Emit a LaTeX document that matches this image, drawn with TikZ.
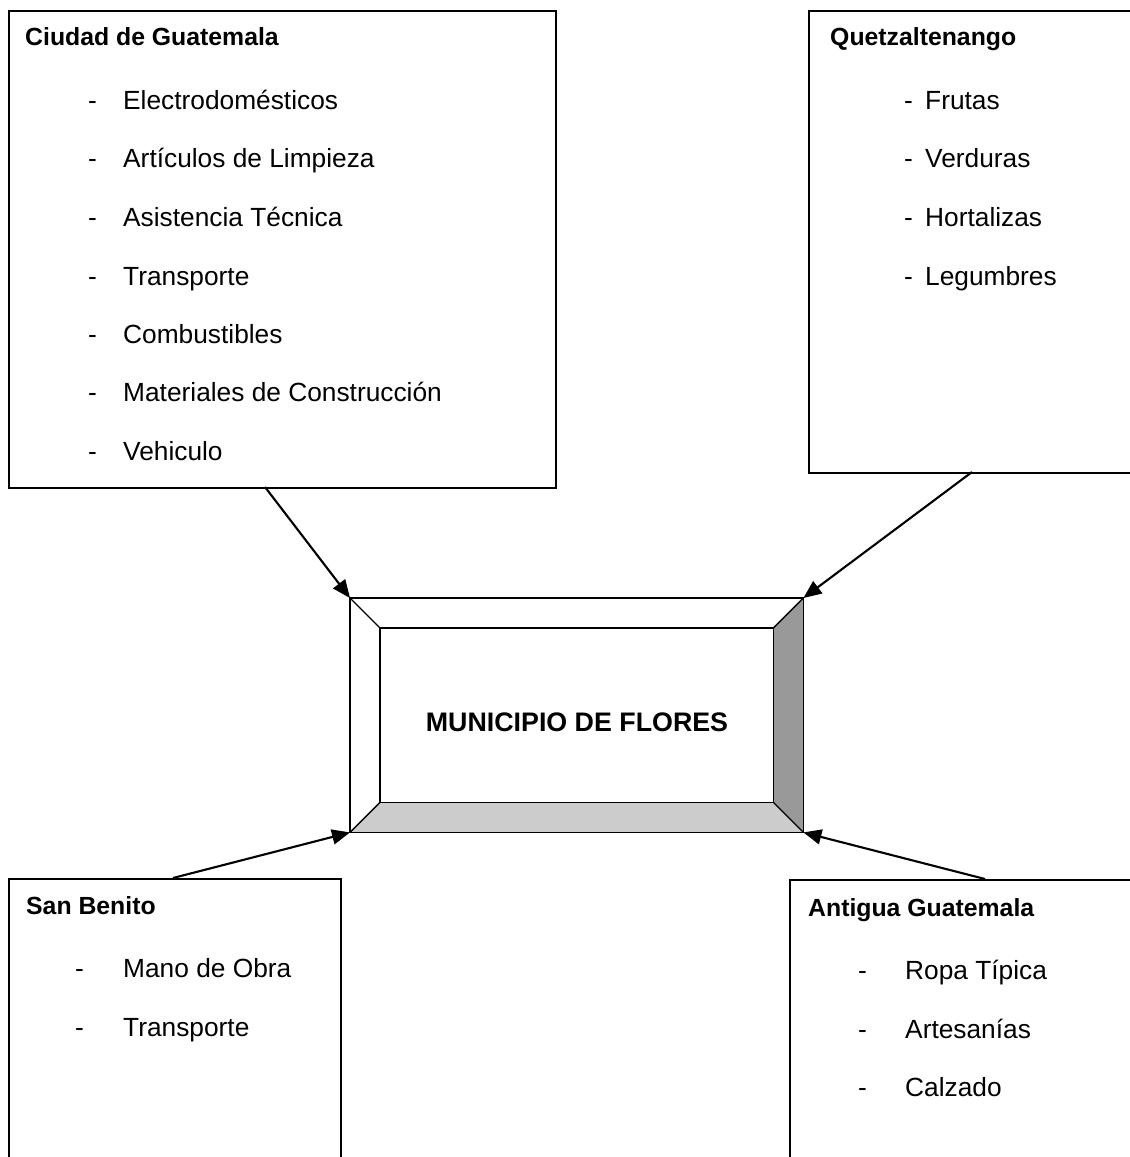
\documentclass[tikz,border=0pt]{standalone}
\usepackage{fontspec}
\setmainfont{Liberation Sans}
\usetikzlibrary{arrows.meta}
\tikzset{
  panel/.style={draw=black, line width=1.6pt, fill=none, rectangle, inner sep=0pt, anchor=north west},
  ttl/.style={anchor=base west, inner sep=0pt, font=\fontsize{24.8}{30}\selectfont\bfseries},
  itm/.style={anchor=base west, inner sep=0pt, font=\fontsize{26.3}{30}\selectfont},
  dsh/.style={anchor=base west, inner sep=0pt, font=\fontsize{26.3}{30}\selectfont},
  conn/.style={line width=2.1pt, -{Triangle[length=18pt,width=15pt]}},
  bevel/.style={draw=black, line width=1.4pt, line join=miter}
}
\begin{document}
\begin{tikzpicture}[x=1pt,y=-1pt]
\useasboundingbox (0,0) rectangle (1130,1157);
\clip (0,0) rectangle (1130,1157);
\fill[white] (0,0) rectangle (1130,1157);

% panels
\node[panel, minimum width=547pt, minimum height=477pt] (A) at (8,10) {};
\node[panel, minimum width=340pt, minimum height=462pt] (Q) at (808,10) {};
\node[panel, minimum width=332pt, minimum height=320pt] (S) at (8,878) {};
\node[panel, minimum width=360pt, minimum height=320pt] (G) at (789,879) {};

% central bevel box
\node[rectangle, inner sep=0pt, minimum width=453pt, minimum height=234pt, anchor=north west] (M) at (350,598) {};
\node[rectangle, inner sep=0pt, minimum width=393pt, minimum height=174pt, anchor=north west] (Mi) at (380,628) {};
\fill[white] (M.north west) -- (M.north east) -- (Mi.north east) -- (Mi.north west) -- cycle;
\fill[white] (M.north west) -- (Mi.north west) -- (Mi.south west) -- (M.south west) -- cycle;
\fill[black!40] (M.north east) -- (M.south east) -- (Mi.south east) -- (Mi.north east) -- cycle;
\fill[black!20] (M.south west) -- (M.south east) -- (Mi.south east) -- (Mi.south west) -- cycle;
\draw[bevel] (M.north west) rectangle (M.south east);
\draw[bevel] (Mi.north west) rectangle (Mi.south east);
\draw[bevel] (M.north west) -- (Mi.north west);
\draw[bevel] (M.north east) -- (Mi.north east);
\draw[bevel] (M.south west) -- (Mi.south west);
\draw[bevel] (M.south east) -- (Mi.south east);
\node[inner sep=0pt, font=\fontsize{26.8}{30}\selectfont\bfseries] (Mt) at (577,722) {MUNICIPIO DE FLORES};

% Ciudad de Guatemala
\node[ttl] (At) at (25,45) {Ciudad de Guatemala};
\foreach \y/\t [count=\i] in {109/Electrodomésticos,167/Artículos de Limpieza,226/Asistencia Técnica,285/Transporte,343/Combustibles,401/Materiales de Construcción,460/Vehiculo}{
  \node[dsh] (Ad\i) at (88,\y) {-};
  \node[itm] (Ai\i) at (123,\y) {\t};
}

% Quetzaltenango
\node[ttl] (Qt) at (830,45) {Quetzaltenango};
\foreach \y/\t [count=\i] in {109/Frutas,167/Verduras,226/Hortalizas,285/Legumbres}{
  \node[dsh] (Qd\i) at (904,\y) {-};
  \node[itm] (Qi\i) at (925,\y) {\t};
}

% San Benito
\node[ttl] (St) at (26,914) {San Benito};
\foreach \y/\t [count=\i] in {977/Mano de Obra,1036/Transporte}{
  \node[dsh] (Sd\i) at (75,\y) {-};
  \node[itm] (Si\i) at (123,\y) {\t};
}

% Antigua Guatemala
\node[ttl] (Gt) at (808,916) {Antigua Guatemala};
\foreach \y/\t [count=\i] in {979/Ropa Típica,1038/Artesanías,1096/Calzado}{
  \node[dsh] (Gd\i) at (858,\y) {-};
  \node[itm] (Gi\i) at (905,\y) {\t};
}

% connectors
\coordinate (a1) at (265,487);
\coordinate (q1) at (972,472);
\coordinate (s1) at (173,878);
\coordinate (g1) at (985,879);
\draw[conn] (a1) -- (M.north west);
\draw[conn] (q1) -- (M.north east);
\draw[conn] (s1) -- (M.south west);
\draw[conn] (g1) -- (M.south east);
\end{tikzpicture}
\end{document}
